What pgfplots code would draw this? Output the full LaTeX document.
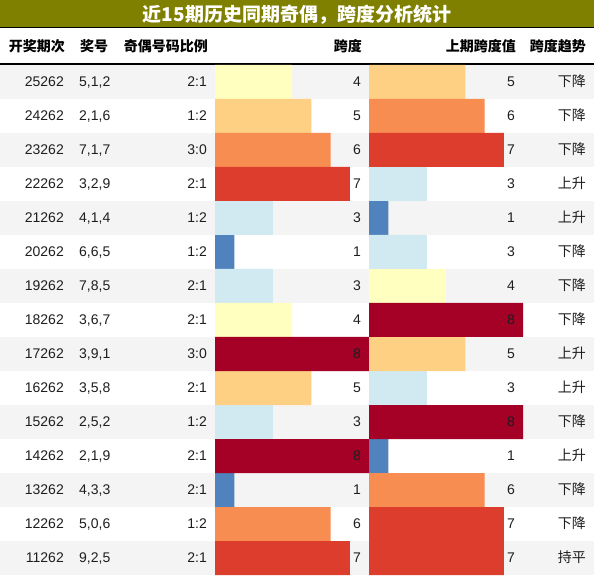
\documentclass[border=0pt]{standalone}
\usepackage{pgfplots}
\usepackage{pgfplotstable}
\pgfplotsset{compat=1.18}
\usepackage{fontspec}
\setmainfont{Liberation Sans}
\newfontfamily\cjk{Noto Sans CJK SC}
\definecolor{c1}{RGB}{80,131,189}
\definecolor{c3}{RGB}{209,234,241}
\definecolor{c4}{RGB}{255,255,191}
\definecolor{c5}{RGB}{253,208,131}
\definecolor{c6}{RGB}{248,141,82}
\definecolor{c7}{RGB}{221,61,45}
\definecolor{c8}{RGB}{165,0,38}
\definecolor{olivebar}{RGB}{128,128,0}
\definecolor{stripe}{RGB}{244,244,244}
\definecolor{txt}{RGB}{30,30,30}

\pgfplotstableread{
row id nums ratio v1 v2 trend
1 25262 5,1,2 2:1 4 5 下降
2 24262 2,1,6 1:2 5 6 下降
3 23262 7,1,7 3:0 6 7 下降
4 22262 3,2,9 2:1 7 3 上升
5 21262 4,1,4 1:2 3 1 上升
6 20262 6,6,5 1:2 1 3 下降
7 19262 7,8,5 2:1 3 4 下降
8 18262 3,6,7 2:1 4 8 下降
9 17262 3,9,1 3:0 8 5 上升
10 16262 3,5,8 2:1 5 3 上升
11 15262 2,5,2 1:2 3 8 下降
12 14262 2,1,9 2:1 8 1 上升
13 13262 4,3,3 2:1 1 6 下降
14 12262 5,0,6 1:2 6 7 下降
15 11262 9,2,5 2:1 7 7 持平
}\data

\begin{document}
\begin{tikzpicture}[x=1bp,y=1bp,
  body/.style={inner sep=0pt, text=txt, font=\fontsize{14bp}{16bp}\selectfont},
  head/.style={inner sep=0pt, text=black, font=\fontsize{14bp}{16bp}\selectfont\cjk\bfseries}]
\useasboundingbox (0,0) rectangle (594,576);
\fill[white] (0,0) rectangle (594,576);
\foreach \k in {0,2,...,14} {
  \fill[stripe] (0,{576-65-34*\k}) rectangle (594,{576-99-34*\k});
}
\fill[olivebar] (0,576) rectangle (594,548);
\draw[black, line width=1bp] (0,548) -- (594,548);
\draw[black, line width=1.5bp] (0,512) -- (594,512);

\begin{axis}[at={(215bp,511bp)}, anchor=north west, scale only axis,
  width=154bp, height=510bp, xmin=0, xmax=8, ymin=0.5, ymax=15.5,
  y dir=reverse, hide axis, xbar, bar width=1, bar shift=0pt]
\pgfplotsinvokeforeach{1,3,4,5,6,7,8}{
  \addplot[draw=none, fill=c#1, x filter/.expression={x==#1 ? x : nan}] table[x=v1,y=row]{\data};
}
\end{axis}
\begin{axis}[at={(369bp,511bp)}, anchor=north west, scale only axis,
  width=154bp, height=510bp, xmin=0, xmax=8, ymin=0.5, ymax=15.5,
  y dir=reverse, hide axis, xbar, bar width=1, bar shift=0pt]
\pgfplotsinvokeforeach{1,3,4,5,6,7,8}{
  \addplot[draw=none, fill=c#1, x filter/.expression={x==#1 ? x : nan}] table[x=v2,y=row]{\data};
}
\end{axis}

% title
\node[anchor=base, inner sep=0pt, text=white, font=\fontsize{19bp}{22bp}\selectfont\cjk\bfseries] at (297,554) {近15期历史同期奇偶，跨度分析统计};
% header
\node[head, anchor=base east] at (65,524) {开奖期次};
\node[head, anchor=base west] at (80,524) {奖号};
\node[head, anchor=base east] at (208,524) {奇偶号码比例};
\node[head, anchor=base east] at (362,524) {跨度};
\node[head, anchor=base east] at (516,524) {上期跨度值};
\node[head, anchor=base east] at (586,524) {跨度趋势};

\foreach \i in {0,...,14} {
  \pgfmathsetmacro\yb{576-87-34*\i}
  \pgfplotstablegetelem{\i}{id}\of\data
  \node[body, anchor=base east] at (64,\yb) {\pgfplotsretval};
  \pgfplotstablegetelem{\i}{nums}\of\data
  \node[body, anchor=base west] at (79,\yb) {\pgfplotsretval};
  \pgfplotstablegetelem{\i}{ratio}\of\data
  \node[body, anchor=base east] at (207,\yb) {\pgfplotsretval};
  \pgfplotstablegetelem{\i}{v1}\of\data
  \node[body, anchor=base east] at (361,\yb) {\pgfplotsretval};
  \pgfplotstablegetelem{\i}{v2}\of\data
  \node[body, anchor=base east] at (515,\yb) {\pgfplotsretval};
  \pgfplotstablegetelem{\i}{trend}\of\data
  \node[body, anchor=base east] at (586,\yb) {\cjk\pgfplotsretval};
}
\end{tikzpicture}
\end{document}
